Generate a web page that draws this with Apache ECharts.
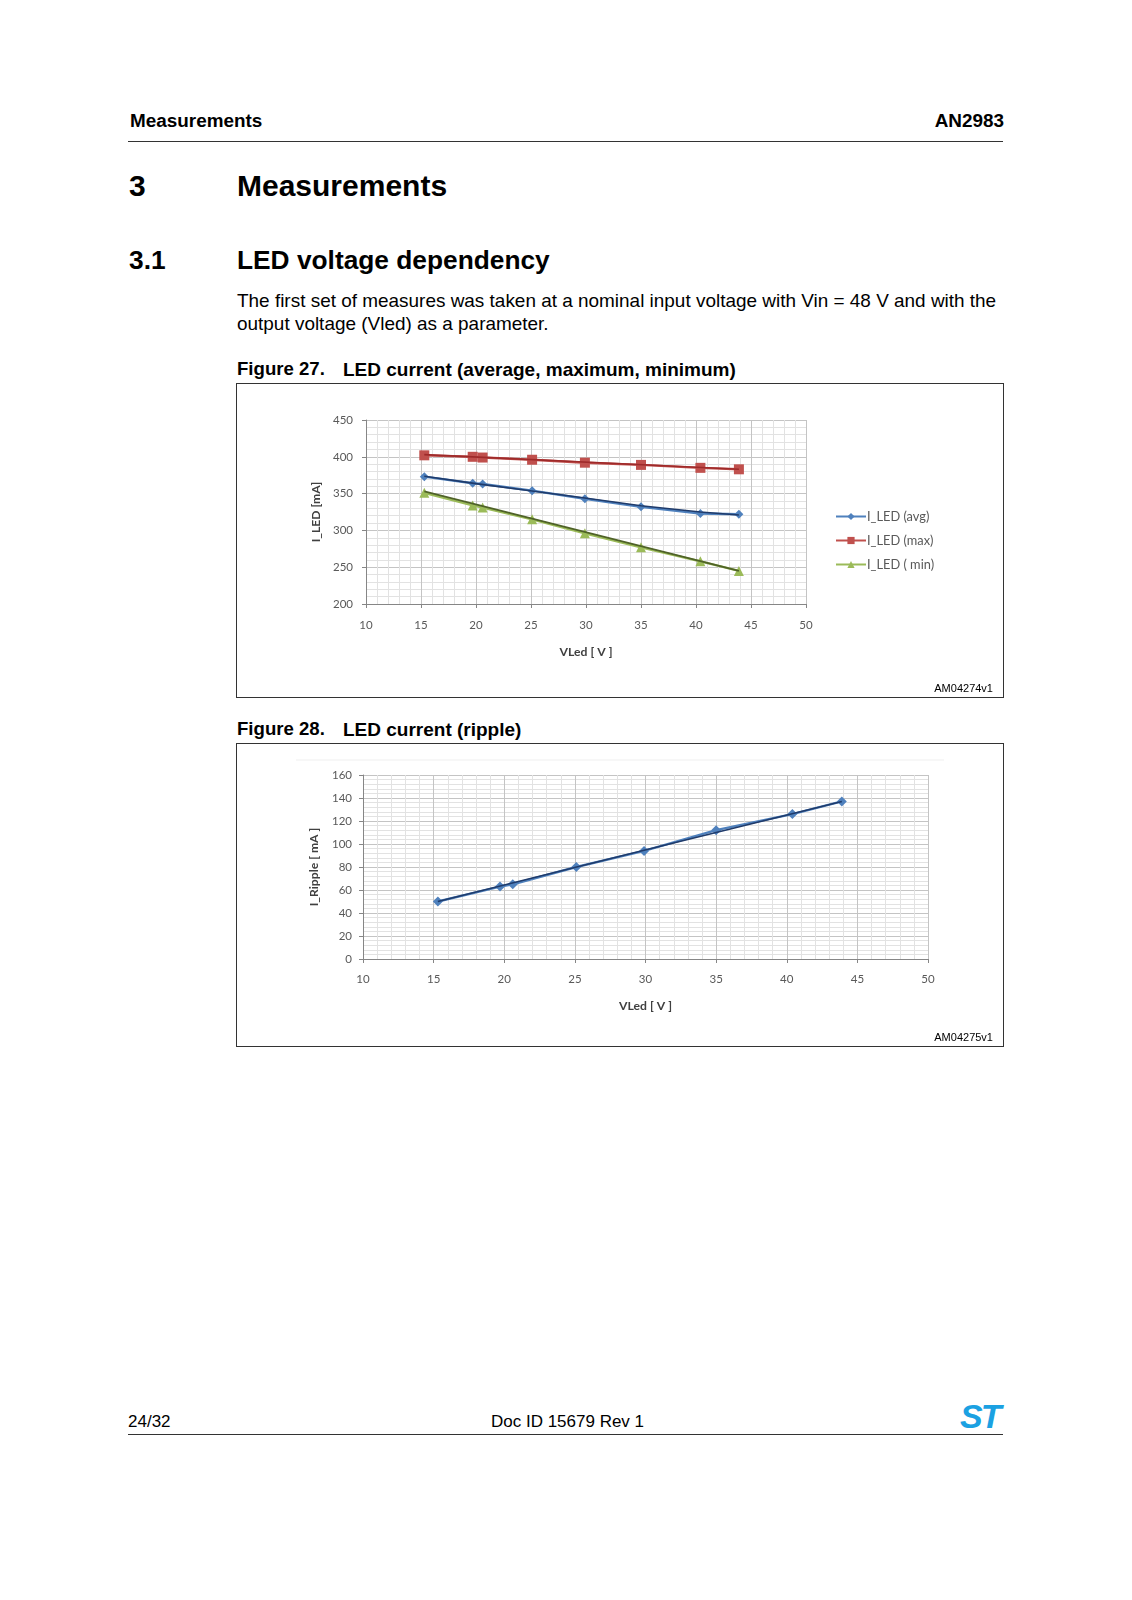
<!DOCTYPE html>
<html>
<head>
<meta charset="utf-8">
<script src="https://cdn.jsdelivr.net/npm/echarts@6/dist/echarts.min.js"></script>
<style>
  html, body { margin: 0; padding: 0; background: #fff; }
  #page { position: relative; width: 1132px; height: 1600px; background: #fff; font-family: "Liberation Sans", Arial, sans-serif; color: #000; }
  .t { position: absolute; white-space: nowrap; line-height: 1; }
  .b { font-weight: bold; }
  .rule { position: absolute; height: 1px; background: #333; }
  .box { position: absolute; box-sizing: border-box; border: 1px solid #333; background: #fff; }
  .chart { position: absolute; left: 0; top: 0; }
  .am { position: absolute; font-size: 11px; line-height: 1; font-family: "Liberation Sans", Arial, sans-serif; }
</style>
</head>
<body>
<div id="page">
  <div class="t b" style="left:130px; top:112px; font-size:18.9px;">Measurements</div>
  <div class="t b" style="right:128px; top:112px; font-size:18.9px;">AN2983</div>
  <div class="rule" style="left:128px; top:141px; width:875px;"></div>

  <div class="t b" style="left:129px; top:171px; font-size:30px;">3</div>
  <div class="t b" style="left:237px; top:171px; font-size:30px;">Measurements</div>

  <div class="t b" style="left:129px; top:247px; font-size:26.3px;">3.1</div>
  <div class="t b" style="left:237px; top:247px; font-size:26.3px;">LED voltage dependency</div>

  <div class="t" style="left:237px; top:292px; font-size:18.95px;">The first set of measures was taken at a nominal input voltage with Vin = 48 V and with the</div>
  <div class="t" style="left:237px; top:315px; font-size:18.95px;">output voltage (Vled) as a parameter.</div>

  <div class="t b" style="left:237px; top:360px; font-size:18.6px;">Figure 27.</div>
  <div class="t b" style="left:343px; top:360px; font-size:19px;">LED current (average, maximum, minimum)</div>

  <div class="box" style="left:236px; top:383px; width:768px; height:315px;">
    <div id="c1" class="chart" style="width:766px; height:313px;"></div>
    <div class="am" style="right:10px; top:299px;">AM04274v1</div>
  </div>

  <div class="t b" style="left:237px; top:720px; font-size:18.6px;">Figure 28.</div>
  <div class="t b" style="left:343px; top:720px; font-size:19px;">LED current (ripple)</div>

  <div class="box" style="left:236px; top:743px; width:768px; height:304px;">
    <div id="c2" class="chart" style="width:766px; height:302px;"></div>
    <div class="am" style="right:10px; top:288px;">AM04275v1</div>
  </div>

  <div class="t" style="left:128px; top:1413px; font-size:17px;">24/32</div>
  <div class="t" style="left:0px; width:1135px; text-align:center; top:1413px; font-size:17px;">Doc ID 15679 Rev 1</div>
  <div class="t b" style="left:960px; top:1399px; font-size:34px; font-style:italic; color:#1ba1e2; letter-spacing:-2px;">ST</div>
  <div class="rule" style="left:128px; top:1434px; width:875px;"></div>
</div>

<script>
// ---- Data ----
const vled     = [15.3, 19.7, 20.6, 25.1, 29.9, 35.0, 40.4, 43.9];
const iLedAvg  = [373, 364, 363, 354, 343, 332, 323, 322];
const iLedMax  = [402, 400, 399, 396, 392, 389, 385, 383];
const iLedMin  = [351, 334, 331, 315, 296, 277, 258, 245];
const iRipple  = [50, 63, 65, 80, 94, 112, 126, 137];
// trend lines as drawn in the picture
const trendAvg    = [[15.3, 373.5], [20.0, 363.5], [25.1, 353.5], [29.9, 344], [35.0, 333.5], [40.4, 325], [43.9, 321]];
const trendMax    = [[15.3, 403], [43.9, 383]];
const trendMin    = [[15.3, 353], [43.9, 245]];
const trendRipple = [[15.3, 50], [29.9, 94.5], [43.9, 137]];
const seriesNames = ['I_LED (avg)', 'I_LED (max)', 'I_LED ( min)'];

const pair = (xs, ys) => xs.map((x, i) => [x, ys[i]]);

const FONT = 'Lato, "Open Sans", sans-serif';
const labelStyle = { color: '#595959', fontSize: 11.5, fontFamily: FONT };
const nameStyle = { color: '#404040', fontSize: 12.2, fontWeight: 'bold', fontFamily: FONT };

function xAxisCfg(gap, margin) {
  return {
    type: 'value', min: 10, max: 50, interval: 5,
    name: 'VLed [ V ]', nameLocation: 'middle', nameGap: gap, nameTextStyle: nameStyle,
    axisLine: { show: true, lineStyle: { color: '#868686', width: 1 } },
    axisTick: { show: true, length: 4, lineStyle: { color: '#868686' } },
    axisLabel: Object.assign({ margin: margin }, labelStyle),
    splitLine: { show: true, lineStyle: { color: '#c4c4c4', width: 1 } },
    minorTick: { show: false, splitNumber: 5 },
    minorSplitLine: { show: true, lineStyle: { color: '#e2e2e2', width: 1 } }
  };
}
function yAxisCfg(min, max, interval, name, gap, margin) {
  return {
    type: 'value', min: min, max: max, interval: interval,
    name: name, nameLocation: 'middle', nameGap: gap, nameRotate: 90, nameTextStyle: nameStyle,
    axisLine: { show: true, lineStyle: { color: '#868686', width: 1 } },
    axisTick: { show: true, length: 4, lineStyle: { color: '#868686' } },
    axisLabel: Object.assign({ margin: margin }, labelStyle),
    splitLine: { show: true, lineStyle: { color: '#c4c4c4', width: 1 } },
    minorTick: { show: false, splitNumber: 5 },
    minorSplitLine: { show: true, lineStyle: { color: '#e2e2e2', width: 1 } }
  };
}

function dataSeries(name, xs, ys, light, symbol, size) {
  return {
    name: name, type: 'line', z: 2, data: pair(xs, ys),
    symbol: symbol, symbolSize: size, showSymbol: true,
    lineStyle: { color: light, width: 2.4 },
    itemStyle: { color: light, borderWidth: 0 },
    emphasis: { disabled: true }, animation: false
  };
}
function trendSeries(points, dark) {
  return {
    name: 'trend', type: 'line', z: 3, data: points, symbol: 'none',
    lineStyle: { color: dark, width: 1.6 },
    emphasis: { disabled: true }, animation: false, silent: true
  };
}

const c1 = echarts.init(document.getElementById('c1'), null, { renderer: 'canvas' });
c1.setOption({
  animation: false,
  grid: { left: 129, top: 36, width: 440, height: 184, containLabel: false },
  xAxis: xAxisCfg(42, 15),
  yAxis: yAxisCfg(200, 450, 50, 'I_LED [mA]', 44, 13),
  legend: {
    data: seriesNames, orient: 'vertical', left: 593, top: 121,
    itemWidth: 30, itemHeight: 9, itemGap: 11,
    textStyle: { color: '#595959', fontSize: 12.8, fontFamily: FONT, padding: [0, 0, 0, -4] },
    selectedMode: false
  },
  series: [
    dataSeries(seriesNames[0], vled, iLedAvg, '#4f81bd', 'diamond', 9),
    dataSeries(seriesNames[1], vled, iLedMax, '#c0504d', 'rect', 10),
    dataSeries(seriesNames[2], vled, iLedMin, '#9bbb59', 'triangle', 10),
    trendSeries(trendAvg, '#1f3b6b'),
    trendSeries(trendMax, '#9e2a2a'),
    trendSeries(trendMin, '#4f6228')
  ]
});

const c2 = echarts.init(document.getElementById('c2'), null, { renderer: 'canvas' });
c2.setOption({
  animation: false,
  grid: { left: 126, top: 31, width: 565, height: 184, containLabel: false },
  graphic: [{ type: 'line', shape: { x1: 59, y1: 16, x2: 707, y2: 16 }, style: { stroke: '#efefef', lineWidth: 1 }, silent: true }],
  xAxis: xAxisCfg(41, 14),
  yAxis: yAxisCfg(0, 160, 20, 'I_Ripple [ mA ]', 43, 11),
  series: [
    dataSeries('I_Ripple', vled, iRipple, '#4f81bd', 'diamond', 10),
    trendSeries(trendRipple, '#1f3b6b')
  ]
});
</script>
</body>
</html>
